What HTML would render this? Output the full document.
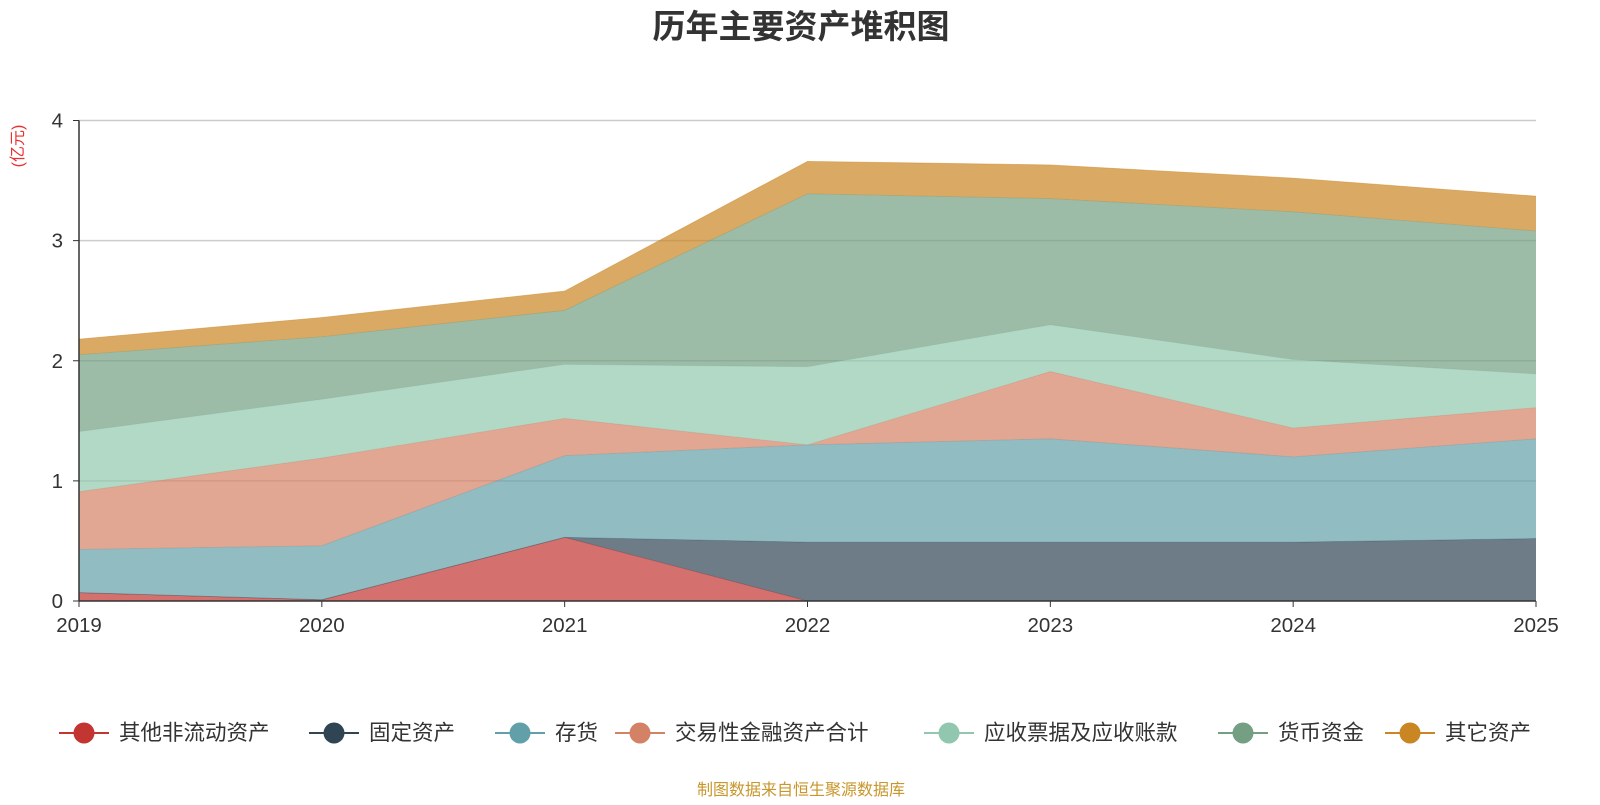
<!DOCTYPE html>
<html><head><meta charset="utf-8"><style>
body{margin:0;background:#fff;font-family:"Liberation Sans","Noto Sans CJK SC",sans-serif;}
svg text{font-family:"Liberation Sans","Noto Sans CJK SC",sans-serif;}
</style></head><body>
<svg id="c" width="1600" height="800">
<text x="801" y="38" text-anchor="middle" font-size="33" font-weight="bold" fill="#333">历年主要资产堆积图</text>
<text transform="translate(23,146) rotate(-90)" text-anchor="middle" font-size="16" fill="#e83030">(亿元)</text>
<g id="grid"></g><g id="areas"></g><g id="axes"></g><g id="legend"></g>
<text x="801" y="795" text-anchor="middle" font-size="16" fill="#c8962a">制图数据来自恒生聚源数据库</text>
</svg>
<script>
const years=['2019','2020','2021','2022','2023','2024','2025'];
const seriesNames=['其他非流动资产','固定资产','存货','交易性金融资产合计','应收票据及应收账款','货币资金','其它资产'];
const sOtherNonCurrent=[0.07,0.01,0.53,0,0,0,0];
const sFixed=[0,0,0,0.49,0.49,0.49,0.52];
const sInventory=[0.36,0.45,0.68,0.81,0.86,0.71,0.83];
const sTrading=[0.48,0.73,0.31,0,0.56,0.24,0.26];
const sReceivables=[0.50,0.49,0.45,0.65,0.39,0.57,0.28];
const sCash=[0.64,0.52,0.45,1.44,1.05,1.23,1.19];
const sOther=[0.13,0.16,0.16,0.27,0.28,0.28,0.29];
const yTicks=[0,1,2,3,4];
const colors=['#c23531','#2f4554','#61a0a8','#d48265','#91c7ae','#749f83','#ca8622'];
const all=[sOtherNonCurrent,sFixed,sInventory,sTrading,sReceivables,sCash,sOther];
const NS='http://www.w3.org/2000/svg';
const x0=79,x1=1536,y0=601,yTop=120.5;
const xs=i=>x0+(x1-x0)*i/(years.length-1);
const ys=v=>y0-(y0-yTop)*v/4;
function el(t,a,p){const e=document.createElementNS(NS,t);for(const k in a)e.setAttribute(k,a[k]);p.appendChild(e);return e;}
const g=document.getElementById('grid'),ar=document.getElementById('areas'),ax=document.getElementById('axes'),lg=document.getElementById('legend');
yTicks.forEach(t=>{
 if(t>0){const l=el('line',{x1:x0,x2:x1,y1:ys(t),y2:ys(t),stroke:'#ccc','stroke-width':1.5},g);
 
 }
 const tx=el('text',{x:x0-16,y:ys(t)+7,'text-anchor':'end','font-size':20.5,fill:'#333'},ax);tx.textContent=t;
 
 
 el('line',{x1:x0-6,x2:x0,y1:ys(t),y2:ys(t),stroke:'#333'},ax);
});
let base=years.map(()=>0);
all.forEach((s,k)=>{
 const top=base.map((b,i)=>b+s[i]);
 let pts=top.map((v,i)=>xs(i)+','+ys(v));
 for(let i=years.length-1;i>=0;i--)pts.push(xs(i)+','+ys(base[i]));
 const p=el('polygon',{points:pts.join(' '),fill:colors[k],'fill-opacity':0.7},ar);
 
 
 el('polyline',{points:top.map((v,i)=>xs(i)+','+ys(v)).join(' '),fill:'none',stroke:colors[k],'stroke-width':0.8,'stroke-opacity':0.5},ar);
 base=top;
});
el('line',{x1:x0,x2:x0,y1:yTop,y2:y0,stroke:'#333','stroke-width':1.5},ax);
el('line',{x1:x0,x2:x1,y1:y0,y2:y0,stroke:'#333','stroke-width':1.5},ax);
years.forEach((y,i)=>{
 el('line',{x1:xs(i),x2:xs(i),y1:y0,y2:y0+6,stroke:'#333'},ax);
 const t=el('text',{x:xs(i),y:y0+31,'text-anchor':'middle','font-size':20.5,fill:'#333'},ax);t.textContent=y;
 
 
});
const lx=[84,334,520,640,949,1243,1410];
seriesNames.forEach((n,k)=>{
 const gg=el('g',{},lg);
 
 
 el('line',{x1:lx[k]-25,x2:lx[k]+25,y1:733,y2:733,stroke:colors[k],'stroke-width':2},gg);
 el('circle',{cx:lx[k],cy:733,r:10.5,fill:colors[k]},gg);
 const t=el('text',{x:lx[k]+35,y:740,'font-size':21.5,fill:'#333'},gg);t.textContent=n;
});
</script>
</body></html>
